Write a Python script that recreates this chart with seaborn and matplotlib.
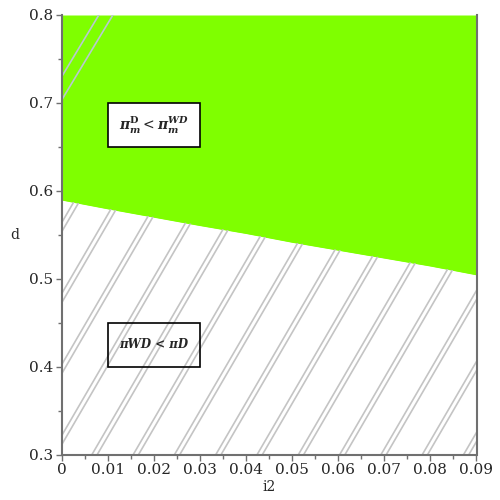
import numpy as np
import pandas as pd
import matplotlib
matplotlib.use("Agg")
import matplotlib.pyplot as plt
import seaborn as sns
from matplotlib.patches import Polygon, Rectangle

# boundary where pi_m^D = pi_m^WD
i2_vals = [0.0, 0.01, 0.02, 0.03, 0.04, 0.05, 0.06, 0.07, 0.08, 0.09]
d_bound = [0.590, 0.580, 0.5705, 0.561, 0.552, 0.542, 0.533, 0.524, 0.515, 0.505]

x_ticks = [0, 0.01, 0.02, 0.03, 0.04, 0.05, 0.06, 0.07, 0.08, 0.09]
x_ticklabels = ["0", "0.01", "0.02", "0.03", "0.04", "0.05", "0.06", "0.07", "0.08", "0.09"]
y_ticks = [0.3, 0.4, 0.5, 0.6, 0.7, 0.8]
y_ticklabels = ["0.3", "0.4", "0.5", "0.6", "0.7", "0.8"]

region_labels = [r"$\boldsymbol{\pi}_{\mathbfit{m}}^{\mathbf{D}} < \boldsymbol{\pi}_{\mathbfit{m}}^{\mathbfit{WD}}$",
                 "πWD < πD"]

df = pd.DataFrame({"i2": i2_vals, "d": d_bound})

sns.set_style("ticks")
plt.rcParams["font.family"] = ["DejaVu Serif"]
plt.rcParams["mathtext.fontset"] = "dejavuserif"

fig = plt.figure(figsize=(5, 5), dpi=100)
ax = fig.add_axes([0.1234, 0.09, 0.8296, 0.88])

green = "#7fff00"
xmin, xmax, ymin, ymax = 0.0, 0.09, 0.3, 0.8

# green region above the boundary
ax.fill_between(df["i2"], df["d"], ymax, color=green, lw=0, zorder=1)
sns.lineplot(data=df, x="i2", y="d", color=green, lw=1, ax=ax, zorder=1)

# hatching of the other region (plus the small corner Maple leaves)
clip_pts = [(xmin, ymin), (xmax, ymin)] + list(zip(i2_vals[::-1], d_bound[::-1]))
lower = Polygon(clip_pts, closed=True, transform=ax.transData, fill=False, lw=0)
corner = Polygon([(0, 0.69), (0, ymax), (0.0125, ymax)], closed=True,
                 transform=ax.transData, fill=False, lw=0)
ax.add_patch(lower)
ax.add_patch(corner)

slope = 9.0
spacing = 0.00896
xs = np.array([xmin, xmax])
for k in range(-8, 11):
    b = 0.00651 + k * spacing
    for off in (0.0, 0.00115):
        ln, = ax.plot(xs, ymin + slope * (xs - b - off), color="#c4c4c4", lw=1.2, zorder=2)
        ln.set_clip_path(lower)

# the corner pair is spread a little wider
for c0 in (0.7299, 0.7034):
    ln, = ax.plot(xs, c0 + 8.7 * xs, color="#b8c8d0", lw=1.2, zorder=2)
    ln.set_clip_path(corner)

# label boxes
ax.add_patch(Rectangle((0.01, 0.65), 0.02, 0.05, facecolor="white", edgecolor="black", lw=1.2, zorder=4))
ax.add_patch(Rectangle((0.01, 0.40), 0.02, 0.05, fill=False, edgecolor="black", lw=1.2, zorder=4))
ax.text(0.02, 0.675, region_labels[0], ha="center", va="center", fontsize=10, zorder=5)
ax.text(0.02, 0.425, region_labels[1], ha="center", va="center", fontsize=8.5,
        fontweight="bold", fontstyle="italic", zorder=5)

ax.set_xlim(xmin, xmax)
ax.set_ylim(ymin, ymax)
ax.set_xticks(x_ticks)
ax.set_xticklabels(x_ticklabels, fontsize=11)
ax.set_yticks(y_ticks)
ax.set_yticklabels(y_ticklabels, fontsize=11)
ax.set_xticks(np.arange(0.005, 0.09, 0.01), minor=True)
ax.set_yticks(np.arange(0.35, 0.8, 0.1), minor=True)
ax.tick_params(which="major", length=4, width=1, color="#707070", pad=2)
ax.tick_params(which="minor", length=3, width=1, color="#707070")

ax.set_xlabel("i2", fontsize=10, labelpad=2)
ax.set_ylabel("d", fontsize=10, rotation=0, labelpad=10, va="center")

for s in ["left", "bottom", "right"]:
    ax.spines[s].set_color("#707070")
    ax.spines[s].set_linewidth(1.5)
ax.spines["top"].set_visible(False)

fig.savefig("out.png", dpi=100)
